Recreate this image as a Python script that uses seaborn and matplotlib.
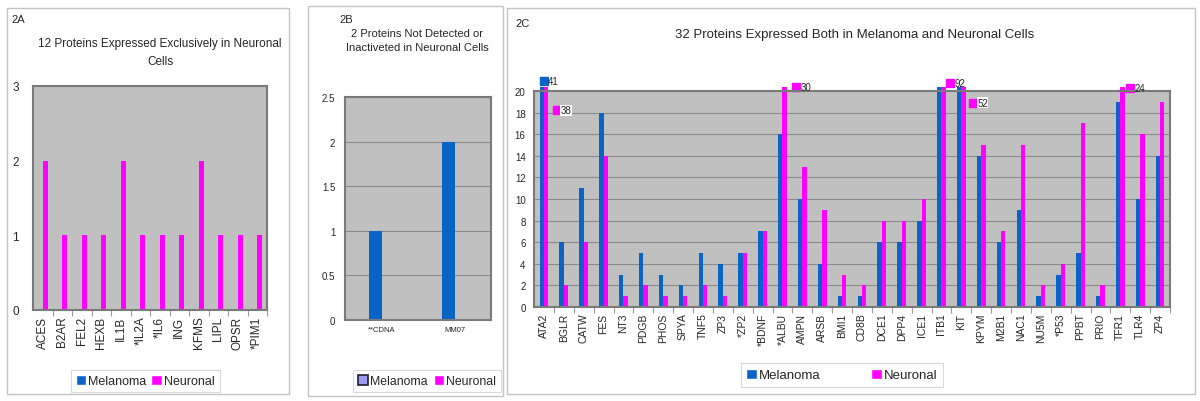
import numpy as np
import pandas as pd
import seaborn as sns
import matplotlib.pyplot as plt
from matplotlib.patches import Rectangle, Patch
from matplotlib.ticker import FuncFormatter

# ---- data ----
a_labels = ['ACES', 'B2AR', 'FEL2', 'HEXB', 'IL1B', '*IL2A', '*IL6', 'ING',
            'KFMS', 'LIPL', 'OPSR', '*PIM1']
a_melanoma = [0, 0, 0, 0, 0, 0, 0, 0, 0, 0, 0, 0]
a_neuronal = [2, 1, 1, 1, 2, 1, 1, 1, 2, 1, 1, 1]

b_labels = ['**CDNA', 'MM07']
b_melanoma = [1, 2]
b_neuronal = [0, 0]

c_labels = ['ATA2', 'BGLR', 'CATW', 'FES', 'NT3', 'PDGB', 'PHOS', 'SPYA',
            'TNF5', 'ZP3', '*ZP2', '*BDNF', '*ALBU', 'AMPN', 'ARSB', 'BMI1',
            'CD8B', 'DCE1', 'DPP4', 'ICE1', 'ITB1', 'KIT', 'KPYM', 'M2B1',
            'NAC1', 'NU5M', '*P53', 'PPBT', 'PRIO', 'TFR1', 'TLR4', 'ZP4']
c_melanoma = [41, 6, 11, 18, 3, 5, 3, 2, 5, 4, 5, 7, 16, 10, 4, 1,
              1, 6, 6, 8, 21, 21, 14, 6, 9, 1, 3, 5, 1, 19, 10, 14]
c_neuronal = [38, 2, 6, 14, 1, 2, 1, 1, 2, 1, 5, 7, 30, 13, 9, 3,
              2, 8, 8, 10, 92, 52, 15, 7, 15, 2, 4, 17, 2, 24, 16, 19]
# off-scale values written next to the clipped bars: (category position, y, label, series)
c_offscale = [(0.0, 20.9, '41', 'Melanoma'), (0.65, 18.2, '38', 'Neuronal'),
              (12.7, 20.4, '30', 'Neuronal'), (20.45, 20.7, '92', 'Neuronal'),
              (21.6, 18.9, '52', 'Neuronal'), (29.5, 20.3, '24', 'Neuronal')]

BLUE = '#0a64c8'
PINK = '#ff00ff'
palette = {'Melanoma': BLUE, 'Neuronal': PINK}

W, H = 1200, 402
sns.set_theme(style='white')
plt.rcParams['font.family'] = ['Liberation Sans', 'DejaVu Sans']

fig = plt.figure(figsize=(W / 100, H / 100), dpi=100)


def px_axes(left, top, right, bottom):
    return fig.add_axes([left / W, 1 - bottom / H, (right - left) / W, (bottom - top) / H])


def long_df(labels, mel, neu):
    return pd.DataFrame({
        'protein': labels * 2,
        'count': list(mel) + list(neu),
        'series': ['Melanoma'] * len(labels) + ['Neuronal'] * len(labels),
    })


def style_axes(ax, ymax, yticks, grid=True, xfs=8, yfs=8, rot=90, ypad=8):
    ax.set_facecolor('#c0c0c0')
    ax.set_ylim(0, ymax)
    ax.set_yticks(yticks)
    ax.yaxis.set_major_formatter(FuncFormatter(lambda v, _: f'{v:g}'))
    ax.set_xlabel('')
    ax.set_ylabel('')
    for s in ax.spines.values():
        s.set_visible(True)
        s.set_color('#7a7a7a')
        s.set_linewidth(1.5)
    if grid:
        ax.yaxis.grid(True, color='#8a8a8a', linewidth=0.8)
        ax.set_axisbelow(True)
    n = len(ax.get_xticks())
    ax.set_xticks(np.arange(n) + 0.5, minor=True)
    ax.tick_params(axis='x', which='major', length=0, labelsize=xfs, labelrotation=rot, pad=4)
    ax.tick_params(axis='x', which='minor', length=4, color='#9a9a9a', width=0.8, bottom=True)
    ax.tick_params(axis='y', length=0, labelsize=yfs, pad=ypad)
    ax.set_xlim(-0.5, n - 0.5)
    for p in ax.patches:
        p.set_linewidth(0)
    if ax.get_legend() is not None:
        ax.get_legend().remove()


def panel_box(left, top, right, bottom):
    fig.patches.append(Rectangle((left / W, 1 - bottom / H), (right - left) / W, (bottom - top) / H,
                                 transform=fig.transFigure, fill=False,
                                 edgecolor='#c4c4c4', linewidth=1.0))


def legend_at(ax, cx, cy, handles, spacing, fs=9.5):
    leg = ax.legend(handles=handles, loc='center', bbox_to_anchor=(cx / W, 1 - cy / H),
                    bbox_transform=fig.transFigure, ncol=2, frameon=True, fancybox=False,
                    edgecolor='#d0d0d0', fontsize=fs, handlelength=0.85, handleheight=0.85,
                    handletextpad=0.15, columnspacing=spacing, borderpad=0.4)
    leg.get_frame().set_linewidth(0.8)


# ---- panel boxes ----
panel_box(7, 9, 289, 395)
panel_box(308, 7, 503, 397)
panel_box(507, 9, 1195, 395)

# ---- 2A ----
ax_a = px_axes(33, 87, 267, 311)
sns.barplot(data=long_df(a_labels, a_melanoma, a_neuronal), x='protein', y='count',
            hue='series', palette=palette, width=0.5, saturation=1, ax=ax_a)
style_axes(ax_a, 3, [0, 1, 2, 3], grid=False, xfs=8.5, yfs=8.5, ypad=10)
fig.text(11 / W, 1 - 20 / H, '2A', fontsize=8, va='center')
fig.text(160 / W, 1 - 53 / H, '12 Proteins Expressed Exclusively in Neuronal\nCells',
         fontsize=8.5, ha='center', va='center', linespacing=1.6)
legend_at(ax_a, 145, 382, [Patch(facecolor=BLUE, label='Melanoma'),
                           Patch(facecolor=PINK, label='Neuronal')], 0.4, fs=9)

# ---- 2B ----
ax_b = px_axes(345, 98, 491, 321)
sns.barplot(data=long_df(b_labels, b_melanoma, b_neuronal), x='protein', y='count',
            hue='series', palette=palette, width=0.33, saturation=1, ax=ax_b)
style_axes(ax_b, 2.5, [0, 0.5, 1, 1.5, 2, 2.5], xfs=5.5, yfs=7, rot=0, ypad=7)
ax_b.tick_params(axis='x', which='minor', length=0)
fig.text(339 / W, 1 - 20 / H, '2B', fontsize=8, va='center')
fig.text(417 / W, 1 - 41 / H, '2 Proteins Not Detected or\nInactiveted in Neuronal Cells',
         fontsize=8, ha='center', va='center', linespacing=1.5)
legend_at(ax_b, 427, 382, [Patch(facecolor='#9a9aee', edgecolor='#202030', linewidth=1.2, label='Melanoma'),
                           Patch(facecolor=PINK, label='Neuronal')], 0.5, fs=8.8)

# ---- 2C ----
ax_c = px_axes(534, 92, 1170, 308)
c_df = long_df(c_labels, c_melanoma, c_neuronal)
c_df['count'] = np.minimum(c_df['count'], 20.35)
sns.barplot(data=c_df, x='protein', y='count', hue='series', palette=palette,
            width=0.44, saturation=1, ax=ax_c)
for p in ax_c.patches:
    p.set_clip_on(False)
style_axes(ax_c, 20, np.arange(0, 21, 2), xfs=7.5, yfs=7, ypad=6)
for xi, yv, lab, ser in c_offscale:
    ax_c.plot([xi], [yv], marker='s', markersize=6, color=palette[ser], clip_on=False,
              linestyle='none')
    ax_c.text(xi + 0.2, yv, lab, fontsize=7, va='center', ha='left', clip_on=False,
              bbox=dict(facecolor='white', edgecolor='none', pad=0.3) if lab in ('38', '52') else None)
fig.text(515 / W, 1 - 24 / H, '2C', fontsize=8, va='center')
fig.text(855 / W, 1 - 35 / H, '32 Proteins Expressed Both in Melanoma and Neuronal Cells',
         fontsize=9.5, ha='center', va='center')
legend_at(ax_c, 842, 376, [Patch(facecolor=BLUE, label='Melanoma'),
                           Patch(facecolor=PINK, label='Neuronal')], 3.8)

fig.savefig('out.png', dpi=100)
